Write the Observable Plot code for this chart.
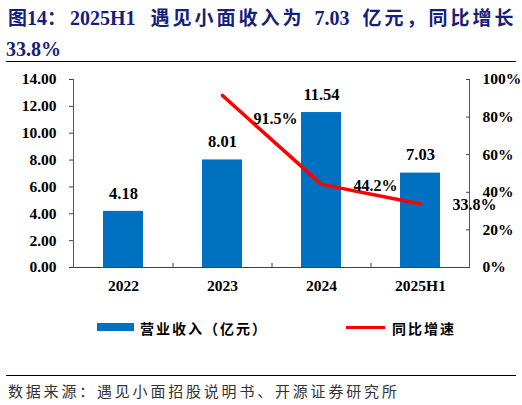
<!DOCTYPE html>
<html lang="zh">
<head>
<meta charset="utf-8">
<script src="https://cdn.jsdelivr.net/npm/d3@7"></script>
<script src="https://cdn.jsdelivr.net/npm/@observablehq/plot@0.6"></script>
<style>
body { margin: 0; background: #fff; width: 522px; height: 405px; position: relative; overflow: hidden; }
.t { position: absolute; left: 8px; font-weight: bold; font-family: "Liberation Serif", "Noto Sans CJK SC", serif; color: #14207a; white-space: nowrap; line-height: 24px; font-size: 20px; }
.t .c { font-family: "Noto Sans CJK SC", sans-serif; font-size: 19px; letter-spacing: 3px; }
#t1 { top: 5px; }
#t2 { top: 37px; left: 6px; }
.rule { position: absolute; left: 6px; width: 510px; border-top: 1.5px solid #000; }
#chart { position: absolute; left: 0; top: 63px; }
.leg { position: absolute; top: 318px; font: bold 14px "Noto Sans CJK SC", sans-serif; color: #000; letter-spacing: 2px; }
#src { position: absolute; left: 8px; top: 380px; font: 15px "Noto Sans CJK SC", sans-serif; color: #333; letter-spacing: 2.8px; white-space: nowrap; }
</style>
</head>
<body>
<div class="t" id="t1"><span class="c" style="letter-spacing:0">图</span>14<span class="c">：</span><span style="margin-left:1px">2025H1</span><span class="c" style="margin-left:15px">遇见小面收入为</span><span style="margin-left:10px">7.03</span><span class="c" style="margin-left:13px">亿元，同比增长</span></div>
<div class="t" id="t2">33.8%</div>
<div class="rule" style="top:61px"></div>
<div id="chart"></div>
<div style="position:absolute;left:97px;top:323px;width:37px;height:8px;background:#0070c0"></div>
<div class="leg" style="left:140px">营业收入（亿元）</div>
<div style="position:absolute;left:346px;top:326px;width:39px;height:3px;background:#ff0000"></div>
<div class="leg" style="left:392px">同比增速</div>
<div class="rule" style="top:375px"></div>
<div id="src">数据来源：遇见小面招股说明书、开源证券研究所</div>
<script>
const years = ['2022', '2023', '2024', '2025H1'];
const revenue = [4.18, 8.01, 11.54, 7.03];
const growth = [null, 91.5, 44.2, 33.8];
const leftTicks = [0, 2, 4, 6, 8, 10, 12, 14];
const rightTicks = [0, 20, 40, 60, 80, 100];

const yMax = 14;
const pct = p => p / 100 * yMax; // 右轴 0-100% 对应左轴 0-14

const bars = years.map((y, i) => ({year: y, value: revenue[i]}));
const rate = years.map((y, i) => ({year: y, g: growth[i]})).filter(d => d.g != null);

const chart = Plot.plot({
  width: 522,
  height: 245,
  marginLeft: 73,
  marginRight: 53,
  marginTop: 16,
  marginBottom: 41,
  style: {fontFamily: '"Liberation Serif", serif', fontSize: '15.5px', fontWeight: 'bold', color: '#000'},
  x: {type: 'band', domain: years, paddingInner: 0.6, paddingOuter: 0.3, axis: null},
  y: {domain: [0, yMax], axis: null},
  marks: [
    Plot.barY(bars, {x: 'year', y: 'value', fill: '#0070c0'}),
    Plot.frame({anchor: 'left', stroke: '#595959'}),
    Plot.frame({anchor: 'right', stroke: '#595959'}),
    Plot.ruleY([0], {stroke: '#404040'}),
    Plot.ruleX(years.slice(1), {x: d => d, y1: 0, y2: 0.3, dx: -49.5, stroke: '#404040'}),
    Plot.axisY(leftTicks, {anchor: 'left', tickSize: 4, tickPadding: 13, tickFormat: d => d.toFixed(2), stroke: '#404040', label: null}),
    Plot.axisY(rightTicks.map(pct), {anchor: 'right', tickSize: 4, insetRight: 4, tickPadding: 13, textAnchor: 'start', tickFormat: d => Math.round(d / yMax * 100) + '%', stroke: '#404040', label: null}),
    Plot.axisX({tickSize: 0, tickPadding: 12, label: null}),
    Plot.text(bars, {x: 'year', y: 'value', text: d => d.value.toFixed(2), dy: -18, fontSize: 16.5}),
    Plot.line(rate, {x: 'year', y: d => pct(d.g), stroke: '#ff0000', strokeWidth: 3.5}),
    Plot.text(rate.slice(0, 1), {x: 'year', y: d => pct(d.g), text: d => d.g.toFixed(1) + '%', dx: 53, dy: 23, fontSize: 16}),
    Plot.text(rate.slice(1), {x: 'year', y: d => pct(d.g), text: d => d.g.toFixed(1) + '%', dx: 54, dy: 1, fontSize: 16})
  ]
});
d3.select('#chart').append(() => chart);
</script>
</body>
</html>
